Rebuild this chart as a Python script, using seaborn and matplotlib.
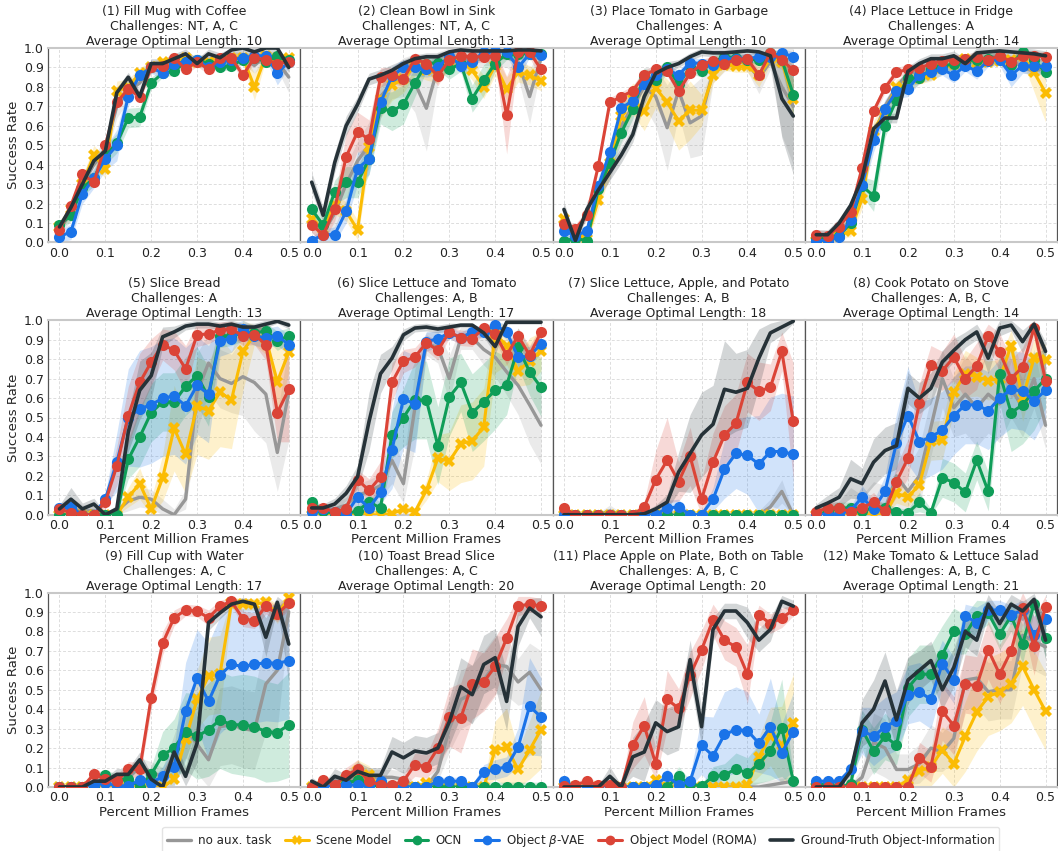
import matplotlib
matplotlib.use("Agg")
import matplotlib.pyplot as plt
import matplotlib.font_manager as fm
from matplotlib.lines import Line2D
import numpy as np
import seaborn as sns

# ---------------- data ----------------
X = [0.0, 0.025, 0.05, 0.075, 0.1, 0.125, 0.15, 0.175, 0.2, 0.225, 0.25,
     0.275, 0.3, 0.325, 0.35, 0.375, 0.4, 0.425, 0.45, 0.475, 0.5]

SERIES = ["grey", "scene", "ocn", "vae", "roma", "gt"]
LABELS = ["no aux. task", "Scene Model", "OCN", "Object $\\beta$-VAE",
          "Object Model (ROMA)", "Ground-Truth Object-Information"]

TITLES = [
    "(1) Fill Mug with Coffee\nChallenges: NT, A, C\nAverage Optimal Length: 10",
    "(2) Clean Bowl in Sink\nChallenges: NT, A, C\nAverage Optimal Length: 13",
    "(3) Place Tomato in Garbage\nChallenges: A\nAverage Optimal Length: 10",
    "(4) Place Lettuce in Fridge\nChallenges: A\nAverage Optimal Length: 14",
    "(5) Slice Bread\nChallenges: A\nAverage Optimal Length: 13",
    "(6) Slice Lettuce and Tomato\nChallenges: A, B\nAverage Optimal Length: 17",
    "(7) Slice Lettuce, Apple, and Potato\nChallenges: A, B\nAverage Optimal Length: 18",
    "(8) Cook Potato on Stove\nChallenges: A, B, C\nAverage Optimal Length: 14",
    "(9) Fill Cup with Water\nChallenges: A, C\nAverage Optimal Length: 17",
    "(10) Toast Bread Slice\nChallenges: A, C\nAverage Optimal Length: 20",
    "(11) Place Apple on Plate, Both on Table\nChallenges: A, B, C\nAverage Optimal Length: 20",
    "(12) Make Tomato & Lettuce Salad\nChallenges: A, B, C\nAverage Optimal Length: 21",
]

P1 = dict(
    grey=[0.07,0.15,0.30,0.40,0.48,0.70,0.78,0.82,0.90,0.90,0.93,0.93,0.94,0.93,0.94,0.95,0.95,0.91,0.96,0.93,0.85],
    scene=[0.08,0.17,0.30,0.45,0.38,0.78,0.80,0.87,0.90,0.93,0.93,0.95,0.93,0.93,0.93,0.95,0.95,0.80,0.96,0.95,0.95],
    ocn=[0.09,0.14,0.28,0.33,0.45,0.51,0.64,0.645,0.82,0.87,0.88,0.93,0.94,0.92,0.90,0.91,0.94,0.95,0.93,0.96,0.94],
    vae=[0.03,0.055,0.25,0.33,0.43,0.50,0.75,0.86,0.90,0.87,0.92,0.93,0.94,0.90,0.93,0.94,0.95,0.96,0.96,0.87,0.93],
    roma=[0.065,0.19,0.35,0.31,0.50,0.72,0.79,0.75,0.90,0.91,0.95,0.89,0.93,0.89,0.95,0.95,0.86,0.95,0.94,0.92,0.93],
    gt=[0.08,0.18,0.30,0.42,0.47,0.77,0.85,0.75,0.92,0.92,0.945,0.97,0.92,0.97,0.95,0.99,1.0,0.98,1.0,1.0,0.90],
)
P2 = dict(
    grey=[0.10,0.05,0.15,0.30,0.42,0.50,0.75,0.82,0.85,0.82,0.69,0.90,0.95,0.95,0.93,0.95,0.95,0.95,0.93,0.75,0.95],
    scene=[0.12,0.07,0.195,0.16,0.065,0.49,0.74,0.81,0.84,0.91,0.885,0.87,0.93,0.94,0.885,0.80,0.91,0.79,0.875,0.86,0.83],
    ocn=[0.17,0.09,0.26,0.31,0.31,0.43,0.69,0.675,0.71,0.82,0.92,0.925,0.89,0.92,0.74,0.835,0.92,0.97,0.97,0.97,0.97],
    vae=[0.01,0.04,0.04,0.16,0.38,0.43,0.72,0.855,0.90,0.90,0.89,0.90,0.96,0.91,0.93,0.98,0.985,0.98,0.90,0.97,0.965],
    roma=[0.09,0.04,0.17,0.44,0.57,0.53,0.85,0.86,0.84,0.945,0.92,0.855,0.94,0.96,0.955,0.955,0.96,0.655,0.98,0.98,0.89],
    gt=[0.31,0.14,0.41,0.60,0.71,0.84,0.86,0.885,0.92,0.945,0.955,0.955,0.98,0.99,0.985,0.985,0.985,0.985,0.99,0.99,0.985],
)
P3 = dict(
    grey=[0.10,0.03,0.05,0.28,0.40,0.60,0.70,0.80,0.75,0.59,0.78,0.615,0.65,0.88,0.92,0.93,0.92,0.845,0.93,0.80,0.70],
    scene=[0.12,0.035,0.02,0.22,0.41,0.65,0.74,0.675,0.795,0.72,0.625,0.68,0.68,0.86,0.915,0.905,0.905,0.86,0.945,0.93,0.74],
    ocn=[0.01,0.02,0.01,0.275,0.41,0.565,0.685,0.855,0.835,0.90,0.815,0.90,0.88,0.93,0.955,0.95,0.94,0.94,0.975,0.94,0.76],
    vae=[0.06,0.035,0.06,0.29,0.465,0.69,0.73,0.815,0.86,0.89,0.86,0.925,0.92,0.915,0.945,0.945,0.945,0.955,0.955,0.975,0.955],
    roma=[0.095,0.07,0.14,0.395,0.72,0.75,0.78,0.86,0.89,0.88,0.78,0.87,0.915,0.935,0.92,0.94,0.945,0.86,0.975,0.94,0.885],
    gt=[0.17,0.01,0.17,0.27,0.36,0.45,0.555,0.75,0.87,0.90,0.92,0.955,0.98,0.975,0.975,0.98,0.985,0.98,0.96,0.74,0.65],
)
P4 = dict(
    grey=[0.02,0.02,0.05,0.12,0.30,0.55,0.70,0.80,0.87,0.88,0.90,0.92,0.90,0.93,0.93,0.94,0.95,0.94,0.90,0.88,0.90],
    scene=[0.01,0.02,0.035,0.06,0.225,0.575,0.675,0.80,0.81,0.845,0.86,0.895,0.92,0.945,0.925,0.93,0.935,0.94,0.96,0.875,0.77],
    ocn=[0.02,0.02,0.035,0.10,0.29,0.24,0.60,0.735,0.845,0.845,0.89,0.905,0.92,0.93,0.94,0.945,0.955,0.915,0.98,0.94,0.875],
    vae=[0.01,0.01,0.03,0.115,0.295,0.525,0.685,0.78,0.79,0.86,0.875,0.89,0.86,0.91,0.88,0.935,0.94,0.86,0.91,0.905,0.905],
    roma=[0.04,0.035,0.08,0.155,0.385,0.675,0.795,0.875,0.89,0.895,0.92,0.935,0.94,0.945,0.955,0.94,0.96,0.93,0.96,0.96,0.955],
    gt=[0.04,0.04,0.10,0.19,0.33,0.585,0.64,0.64,0.88,0.92,0.945,0.945,0.96,0.92,0.975,0.98,0.985,0.98,0.975,0.97,0.96],
)
P5 = dict(
    grey=[0.03,0.03,0.02,0.02,0.0,0.02,0.07,0.09,0.08,0.03,0.0,0.08,0.63,0.78,0.70,0.675,0.71,0.68,0.62,0.32,0.63],
    scene=[0.0,0.0,0.0,0.0,0.0,0.0,0.09,0.16,0.03,0.19,0.445,0.31,0.56,0.535,0.63,0.59,0.84,0.925,0.905,0.685,0.835],
    ocn=[0.0,0.0,0.0,0.0,0.0,0.0,0.285,0.40,0.525,0.58,0.58,0.66,0.715,0.605,0.92,0.92,0.935,0.935,0.945,0.895,0.92],
    vae=[0.035,0.04,0.0,0.0,0.08,0.27,0.50,0.545,0.565,0.60,0.61,0.56,0.665,0.62,0.895,0.905,0.955,0.92,0.91,0.92,0.875],
    roma=[0.03,0.01,0.0,0.0,0.065,0.25,0.51,0.68,0.785,0.875,0.845,0.75,0.925,0.93,0.95,0.955,0.92,0.925,0.875,0.525,0.645],
    gt=[0.03,0.08,0.03,0.055,0.0,0.03,0.425,0.64,0.715,0.915,0.94,0.97,0.98,0.98,0.97,0.98,0.965,0.965,0.98,0.995,0.975],
)
P6 = dict(
    grey=[0.03,0.02,0.03,0.05,0.10,0.12,0.15,0.28,0.16,0.55,0.88,0.86,0.70,0.91,0.91,0.85,0.81,0.735,0.665,0.565,0.46],
    scene=[0.0,0.0,0.0,0.0,0.0,0.0,0.0,0.005,0.03,0.015,0.125,0.29,0.275,0.365,0.38,0.45,0.93,0.87,0.74,0.79,0.84],
    ocn=[0.065,0.02,0.005,0.005,0.02,0.065,0.035,0.41,0.50,0.59,0.59,0.355,0.605,0.68,0.525,0.58,0.64,0.665,0.86,0.735,0.655],
    vae=[0.015,0.03,0.015,0.005,0.09,0.035,0.115,0.335,0.595,0.57,0.89,0.905,0.935,0.91,0.94,0.94,0.975,0.94,0.81,0.815,0.88],
    roma=[0.035,0.035,0.015,0.03,0.18,0.125,0.195,0.68,0.79,0.81,0.885,0.845,0.94,0.91,0.905,0.96,0.93,0.82,0.92,0.82,0.94],
    gt=[0.035,0.035,0.055,0.11,0.195,0.48,0.725,0.805,0.925,0.96,0.965,0.955,0.965,0.975,0.975,0.935,0.865,0.99,0.99,0.99,0.99],
)
P7 = dict(
    grey=[0.0,0.0,0.0,0.0,0.02,0.0,0.0,0.0,0.0,0.0,0.0,0.0,0.0,0.0,0.0,0.0,0.0,0.0,0.04,0.12,0.0],
    scene=[0.0,0.0,0.0,0.0,0.0,0.0,0.0,0.0,0.0,0.0,0.0,0.0,0.0,0.0,0.0,0.0,0.0,0.0,0.0,0.0,0.0],
    ocn=[0.0,0.0,0.0,0.0,0.0,0.0,0.0,0.0,0.0,0.0,0.0,0.0,0.0,0.0,0.0,0.0,0.0,0.0,0.0,0.0,0.0],
    vae=[0.0,0.0,0.0,0.0,0.0,0.0,0.0,0.0,0.0,0.035,0.04,0.0,0.0,0.08,0.235,0.315,0.305,0.26,0.325,0.325,0.31],
    roma=[0.035,0.0,0.0,0.0,0.0,0.0,0.0,0.04,0.18,0.28,0.17,0.30,0.08,0.27,0.41,0.47,0.68,0.635,0.655,0.84,0.48],
    gt=[0.0,0.0,0.0,0.0,0.0,0.0,0.0,0.005,0.03,0.065,0.22,0.315,0.41,0.465,0.645,0.63,0.65,0.805,0.935,0.965,0.995],
)
P8 = dict(
    grey=[0.01,0.02,0.02,0.04,0.02,0.05,0.03,0.20,0.12,0.20,0.45,0.70,0.55,0.62,0.55,0.62,0.57,0.65,0.55,0.70,0.46],
    scene=[0.0,0.0,0.0,0.0,0.0,0.0,0.0,0.11,0.09,0.155,0.38,0.385,0.63,0.725,0.71,0.69,0.70,0.87,0.60,0.805,0.795],
    ocn=[0.0,0.015,0.035,0.035,0.02,0.035,0.035,0.015,0.01,0.065,0.01,0.19,0.165,0.115,0.28,0.12,0.725,0.525,0.565,0.635,0.70],
    vae=[0.005,0.0,0.005,0.02,0.09,0.03,0.12,0.37,0.51,0.375,0.40,0.435,0.51,0.565,0.565,0.535,0.60,0.645,0.635,0.585,0.64],
    roma=[0.015,0.035,0.035,0.015,0.035,0.065,0.02,0.17,0.29,0.575,0.77,0.74,0.81,0.70,0.765,0.92,0.835,0.70,0.76,0.96,0.69],
    gt=[0.035,0.06,0.09,0.185,0.16,0.27,0.33,0.355,0.65,0.60,0.65,0.785,0.845,0.90,0.94,0.805,0.96,0.975,0.89,0.98,0.84],
)
P9 = dict(
    grey=[0.0,0.0,0.0,0.02,0.03,0.05,0.05,0.10,0.08,0.05,0.17,0.30,0.22,0.14,0.31,0.32,0.30,0.29,0.53,0.60,0.90],
    scene=[0.0,0.0,0.0,0.0,0.0,0.0,0.0,0.0,0.0,0.0,0.04,0.245,0.45,0.57,0.58,0.945,0.94,0.94,0.95,0.89,0.97],
    ocn=[0.0,0.0,0.0,0.0,0.06,0.035,0.04,0.0,0.065,0.165,0.20,0.285,0.26,0.295,0.345,0.32,0.32,0.31,0.285,0.28,0.32],
    vae=[0.0,0.0,0.0,0.01,0.02,0.005,0.005,0.035,0.02,0.055,0.105,0.39,0.56,0.44,0.575,0.63,0.62,0.63,0.64,0.635,0.65],
    roma=[0.0,0.0,0.0,0.065,0.04,0.03,0.09,0.09,0.46,0.74,0.87,0.91,0.905,0.87,0.93,0.955,0.865,0.855,0.93,0.89,0.945],
    gt=[0.0,0.0,0.0,0.03,0.03,0.065,0.065,0.14,0.04,0.0,0.18,0.055,0.225,0.845,0.895,0.94,0.955,0.94,0.77,0.95,0.735],
)
P10 = dict(
    grey=[0.02,0.0,0.04,0.02,0.05,0.05,0.05,0.05,0.04,0.0,0.0,0.08,0.30,0.45,0.48,0.55,0.63,0.62,0.54,0.59,0.50],
    scene=[0.0,0.01,0.0,0.04,0.08,0.06,0.0,0.0,0.0,0.0,0.02,0.01,0.0,0.0,0.0,0.0,0.19,0.205,0.09,0.19,0.295],
    ocn=[0.0,0.0,0.0,0.02,0.035,0.01,0.0,0.0,0.0,0.0,0.0,0.0,0.0,0.0,0.0,0.0,0.0,0.0,0.0,0.0,0.0],
    vae=[0.0,0.0,0.01,0.01,0.01,0.01,0.03,0.0,0.0,0.0,0.0,0.03,0.03,0.03,0.0,0.075,0.09,0.105,0.205,0.415,0.36],
    roma=[0.0,0.035,0.01,0.06,0.09,0.03,0.01,0.01,0.03,0.115,0.105,0.20,0.36,0.355,0.53,0.54,0.62,0.765,0.93,0.94,0.93],
    gt=[0.03,0.0,0.055,0.035,0.08,0.06,0.06,0.18,0.15,0.185,0.175,0.20,0.335,0.515,0.475,0.63,0.665,0.44,0.825,0.92,0.875],
)
P11 = dict(
    grey=[0.0,0.0,0.0,0.0,0.0,0.0,0.0,0.0,0.0,0.0,0.0,0.0,0.0,0.0,0.0,0.0,0.0,0.0,0.01,0.02,0.03],
    scene=[0.0,0.0,0.0,0.0,0.0,0.0,0.0,0.0,0.035,0.0,0.0,0.0,0.0,0.0,0.0,0.0,0.01,0.155,0.26,0.215,0.33],
    ocn=[0.0,0.0,0.0,0.0,0.0,0.0,0.0,0.0,0.0,0.0,0.055,0.015,0.005,0.055,0.06,0.095,0.07,0.12,0.185,0.305,0.03],
    vae=[0.03,0.0,0.0,0.0,0.0,0.0,0.0,0.0,0.01,0.055,0.01,0.03,0.215,0.16,0.27,0.295,0.29,0.225,0.31,0.175,0.285],
    roma=[0.005,0.01,0.03,0.01,0.01,0.0,0.215,0.315,0.12,0.45,0.405,0.575,0.705,0.86,0.755,0.72,0.58,0.885,0.84,0.87,0.91],
    gt=[0.0,0.0,0.0,0.0,0.055,0.0,0.155,0.18,0.33,0.285,0.31,0.655,0.31,0.81,0.905,0.905,0.845,0.755,0.81,0.955,0.93],
)
P12 = dict(
    grey=[0.0,0.0,0.0,0.0,0.05,0.23,0.20,0.09,0.09,0.12,0.20,0.18,0.25,0.55,0.56,0.49,0.50,0.50,0.78,0.75,0.72],
    scene=[0.0,0.0,0.0,0.0,0.0,0.0,0.0,0.0,0.035,0.08,0.105,0.19,0.12,0.26,0.385,0.465,0.49,0.53,0.62,0.50,0.39],
    ocn=[0.015,0.015,0.0,0.015,0.295,0.185,0.26,0.215,0.51,0.58,0.58,0.68,0.80,0.785,0.88,0.895,0.785,0.88,0.735,0.94,0.765],
    vae=[0.03,0.03,0.03,0.09,0.29,0.26,0.31,0.34,0.475,0.49,0.45,0.635,0.55,0.88,0.845,0.91,0.91,0.885,0.91,0.78,0.865],
    roma=[0.0,0.0,0.0,0.0,0.0,0.0,0.0,0.0,0.0,0.15,0.105,0.39,0.315,0.53,0.52,0.705,0.58,0.70,0.92,0.725,0.925],
    gt=[0.0,0.0,0.0,0.08,0.33,0.40,0.545,0.345,0.55,0.60,0.65,0.50,0.615,0.80,0.755,0.94,0.84,0.94,0.905,0.965,0.755],
)

# half-widths of the shaded spread (series not listed use a thin default spread)
B1 = dict(
    grey=[0.03,0.04,0.05,0.05,0.05,0.06,0.05,0.05,0.03,0.03,0.03,0.03,0.03,0.03,0.03,0.03,0.03,0.04,0.03,0.04,0.08],
    scene=[0.03,0.03,0.04,0.05,0.05,0.05,0.04,0.03,0.03,0.02,0.02,0.02,0.02,0.02,0.02,0.02,0.03,0.07,0.02,0.02,0.02],
    vae=[0.03,0.04,0.05,0.05,0.06,0.08,0.05,0.03,0.03,0.03,0.02,0.02,0.02,0.03,0.02,0.02,0.02,0.02,0.02,0.06,0.03],
    ocn=[0.02,0.03,0.04,0.04,0.05,0.05,0.05,0.05,0.03,0.02,0.02,0.02,0.02,0.02,0.02,0.02,0.02,0.02,0.02,0.02,0.02],
)
B2 = dict(
    grey=[0.05,0.05,0.08,0.10,0.10,0.12,0.10,0.08,0.10,0.15,0.22,0.08,0.05,0.04,0.05,0.04,0.04,0.05,0.08,0.14,0.05],
    roma=[0.04,0.04,0.06,0.12,0.10,0.10,0.05,0.04,0.04,0.03,0.03,0.05,0.03,0.03,0.03,0.03,0.03,0.20,0.03,0.03,0.05],
    ocn=[0.04,0.04,0.06,0.08,0.08,0.08,0.08,0.10,0.10,0.07,0.04,0.04,0.05,0.04,0.07,0.08,0.04,0.03,0.03,0.03,0.03],
    scene=[0.04,0.04,0.05,0.05,0.05,0.08,0.10,0.08,0.07,0.05,0.05,0.05,0.04,0.04,0.05,0.06,0.05,0.06,0.05,0.05,0.05],
    vae=[0.02,0.03,0.04,0.06,0.08,0.08,0.08,0.05,0.04,0.04,0.04,0.04,0.03,0.04,0.04,0.02,0.02,0.02,0.05,0.02,0.02],
    gt=[0.05,0.04,0.05,0.05,0.04,0.03,0.03,0.03,0.02,0.02,0.02,0.02,0.01,0.01,0.01,0.01,0.01,0.01,0.01,0.01,0.01],
)
B3 = dict(
    grey=[0.05,0.03,0.04,0.06,0.08,0.10,0.10,0.10,0.15,0.22,0.12,0.18,0.20,0.06,0.04,0.03,0.04,0.08,0.04,0.25,0.30],
    scene=[0.04,0.02,0.02,0.05,0.07,0.08,0.08,0.10,0.10,0.12,0.15,0.15,0.08,0.04,0.03,0.03,0.03,0.06,0.03,0.04,0.10],
    gt=[0.04,0.01,0.04,0.04,0.04,0.04,0.04,0.04,0.03,0.03,0.02,0.02,0.02,0.02,0.02,0.02,0.02,0.02,0.04,0.20,0.30],
    ocn=[0.02,0.02,0.02,0.04,0.05,0.05,0.05,0.04,0.04,0.03,0.04,0.03,0.03,0.03,0.02,0.02,0.02,0.02,0.02,0.04,0.10],
)
B4 = dict(
    scene=[0.01,0.02,0.02,0.03,0.05,0.05,0.05,0.04,0.04,0.03,0.03,0.03,0.03,0.02,0.02,0.02,0.02,0.02,0.03,0.10,0.15],
    vae=[0.01,0.01,0.02,0.03,0.05,0.06,0.05,0.04,0.04,0.04,0.04,0.03,0.04,0.03,0.04,0.03,0.03,0.06,0.04,0.04,0.04],
    ocn=[0.01,0.01,0.02,0.03,0.05,0.08,0.06,0.05,0.04,0.03,0.03,0.03,0.03,0.03,0.03,0.03,0.03,0.03,0.02,0.03,0.04],
)
B5 = dict(
    grey=[0.03,0.06,0.03,0.04,0.02,0.02,0.05,0.05,0.05,0.05,0.03,0.05,0.20,0.15,0.15,0.15,0.20,0.25,0.25,0.20,0.25],
    scene=[0.01,0.01,0.01,0.01,0.01,0.01,0.05,0.08,0.05,0.12,0.22,0.20,0.25,0.25,0.28,0.25,0.20,0.05,0.08,0.20,0.10],
    ocn=[0.01,0.01,0.01,0.01,0.01,0.01,0.10,0.15,0.15,0.15,0.15,0.15,0.15,0.15,0.06,0.05,0.04,0.04,0.04,0.05,0.04],
    vae=[0.02,0.02,0.01,0.01,0.03,0.15,0.25,0.30,0.30,0.30,0.30,0.30,0.25,0.25,0.08,0.07,0.05,0.05,0.05,0.05,0.05],
    roma=[0.02,0.02,0.01,0.01,0.04,0.10,0.15,0.15,0.12,0.08,0.10,0.12,0.06,0.05,0.04,0.04,0.05,0.05,0.08,0.15,0.27],
    gt=[0.02,0.06,0.03,0.03,0.01,0.02,0.10,0.15,0.12,0.05,0.03,0.02,0.02,0.02,0.02,0.02,0.02,0.02,0.02,0.01,0.02],
)
B6 = dict(
    grey=[0.03,0.02,0.03,0.04,0.06,0.06,0.06,0.12,0.10,0.20,0.06,0.08,0.12,0.06,0.06,0.08,0.10,0.12,0.15,0.20,0.20],
    scene=[0.01,0.01,0.01,0.01,0.01,0.01,0.01,0.01,0.02,0.02,0.05,0.12,0.15,0.20,0.20,0.20,0.20,0.10,0.08,0.12,0.10],
    ocn=[0.03,0.02,0.01,0.01,0.02,0.04,0.03,0.12,0.15,0.20,0.20,0.20,0.20,0.15,0.20,0.20,0.20,0.15,0.10,0.12,0.15],
    vae=[0.02,0.02,0.02,0.01,0.04,0.02,0.06,0.20,0.25,0.25,0.05,0.04,0.03,0.03,0.03,0.03,0.02,0.04,0.05,0.05,0.05],
    roma=[0.02,0.02,0.02,0.02,0.05,0.06,0.08,0.10,0.06,0.05,0.04,0.05,0.03,0.04,0.04,0.03,0.03,0.05,0.04,0.05,0.03],
    gt=[0.02,0.02,0.03,0.04,0.06,0.15,0.10,0.06,0.03,0.02,0.02,0.02,0.02,0.01,0.01,0.02,0.04,0.01,0.01,0.01,0.01],
)
B7 = dict(
    grey=[0.01,0.01,0.01,0.01,0.03,0.01,0.01,0.01,0.01,0.01,0.01,0.01,0.01,0.01,0.01,0.01,0.01,0.02,0.04,0.06,0.01],
    scene=[0.01,0.01,0.01,0.01,0.01,0.01,0.01,0.01,0.01,0.01,0.01,0.01,0.01,0.01,0.01,0.01,0.01,0.01,0.01,0.01,0.01],
    ocn=[0.01,0.01,0.01,0.01,0.01,0.01,0.01,0.01,0.01,0.01,0.01,0.01,0.01,0.01,0.01,0.01,0.01,0.01,0.01,0.01,0.01],
    vae=[0.01,0.01,0.01,0.01,0.01,0.01,0.01,0.01,0.01,0.04,0.04,0.01,0.01,0.06,0.15,0.18,0.20,0.25,0.28,0.30,0.30],
    roma=[0.02,0.01,0.01,0.01,0.01,0.01,0.01,0.03,0.15,0.22,0.10,0.15,0.10,0.15,0.15,0.15,0.15,0.15,0.12,0.10,0.30],
    gt=[0.01,0.01,0.01,0.01,0.01,0.01,0.01,0.01,0.02,0.04,0.10,0.20,0.22,0.20,0.25,0.20,0.20,0.15,0.05,0.04,0.01],
)
B8 = dict(
    grey=[0.02,0.04,0.05,0.10,0.08,0.12,0.12,0.15,0.12,0.15,0.15,0.15,0.15,0.20,0.20,0.20,0.20,0.15,0.15,0.15,0.12],
    scene=[0.01,0.01,0.01,0.01,0.01,0.01,0.01,0.05,0.05,0.05,0.10,0.10,0.10,0.12,0.10,0.10,0.10,0.08,0.12,0.10,0.08],
    ocn=[0.01,0.02,0.03,0.03,0.02,0.03,0.03,0.02,0.02,0.05,0.02,0.10,0.10,0.10,0.10,0.10,0.15,0.20,0.20,0.20,0.15],
    vae=[0.01,0.01,0.01,0.02,0.06,0.04,0.08,0.15,0.25,0.20,0.20,0.20,0.20,0.20,0.20,0.20,0.20,0.20,0.20,0.20,0.15],
    roma=[0.01,0.03,0.03,0.02,0.03,0.05,0.02,0.08,0.10,0.10,0.10,0.10,0.12,0.10,0.12,0.06,0.10,0.10,0.10,0.05,0.10],
    gt=[0.02,0.04,0.05,0.10,0.08,0.12,0.12,0.12,0.08,0.08,0.08,0.06,0.06,0.04,0.04,0.08,0.04,0.03,0.06,0.03,0.05],
)
B9 = dict(
    grey=[0.01,0.01,0.01,0.02,0.02,0.03,0.03,0.05,0.05,0.05,0.10,0.15,0.15,0.15,0.20,0.20,0.20,0.20,0.25,0.30,0.05],
    scene=[0.01,0.01,0.01,0.01,0.01,0.01,0.01,0.01,0.01,0.01,0.03,0.10,0.15,0.20,0.20,0.03,0.03,0.03,0.03,0.05,0.02],
    ocn=[0.01,0.01,0.01,0.01,0.03,0.03,0.03,0.01,0.04,0.12,0.15,0.20,0.22,0.24,0.25,0.25,0.26,0.26,0.26,0.25,0.27],
    vae=[0.01,0.01,0.01,0.01,0.02,0.01,0.01,0.02,0.02,0.05,0.10,0.25,0.25,0.30,0.30,0.30,0.30,0.30,0.30,0.30,0.30],
    roma=[0.01,0.01,0.01,0.03,0.03,0.03,0.04,0.04,0.06,0.06,0.04,0.03,0.03,0.04,0.03,0.02,0.04,0.04,0.04,0.04,0.03],
    gt=[0.01,0.01,0.01,0.02,0.02,0.03,0.03,0.04,0.03,0.02,0.05,0.05,0.10,0.04,0.03,0.02,0.02,0.02,0.10,0.03,0.20],
)
B10 = dict(
    grey=[0.02,0.01,0.03,0.03,0.04,0.04,0.04,0.04,0.04,0.02,0.02,0.05,0.12,0.15,0.15,0.15,0.15,0.15,0.12,0.15,0.20],
    scene=[0.01,0.02,0.01,0.04,0.06,0.05,0.01,0.01,0.01,0.01,0.02,0.02,0.01,0.01,0.01,0.01,0.15,0.20,0.10,0.15,0.20],
    vae=[0.01,0.01,0.01,0.01,0.01,0.01,0.02,0.01,0.01,0.01,0.01,0.02,0.02,0.02,0.01,0.04,0.05,0.05,0.10,0.25,0.20],
    roma=[0.01,0.03,0.01,0.04,0.05,0.03,0.01,0.01,0.03,0.06,0.06,0.10,0.15,0.18,0.18,0.15,0.15,0.10,0.05,0.04,0.04],
    gt=[0.02,0.01,0.04,0.03,0.05,0.04,0.04,0.08,0.08,0.08,0.08,0.08,0.12,0.15,0.15,0.15,0.15,0.15,0.10,0.05,0.10],
)
B11 = dict(
    scene=[0.01,0.01,0.01,0.01,0.01,0.01,0.01,0.01,0.02,0.01,0.01,0.01,0.01,0.01,0.01,0.01,0.02,0.10,0.15,0.20,0.25],
    ocn=[0.01,0.01,0.01,0.01,0.01,0.01,0.01,0.01,0.01,0.01,0.05,0.02,0.01,0.05,0.06,0.08,0.08,0.10,0.15,0.25,0.03],
    vae=[0.03,0.01,0.01,0.01,0.01,0.01,0.01,0.01,0.01,0.04,0.01,0.03,0.15,0.20,0.22,0.22,0.20,0.15,0.25,0.15,0.20],
    roma=[0.01,0.01,0.03,0.01,0.01,0.01,0.12,0.15,0.08,0.15,0.10,0.12,0.10,0.08,0.10,0.10,0.15,0.05,0.05,0.05,0.03],
    gt=[0.01,0.01,0.01,0.01,0.05,0.01,0.10,0.15,0.12,0.12,0.12,0.10,0.10,0.06,0.04,0.04,0.08,0.06,0.06,0.03,0.03],
)
B12 = dict(
    grey=[0.01,0.01,0.01,0.01,0.05,0.15,0.15,0.08,0.08,0.10,0.12,0.10,0.12,0.15,0.15,0.15,0.15,0.15,0.15,0.15,0.15],
    scene=[0.01,0.01,0.01,0.01,0.01,0.01,0.01,0.01,0.03,0.08,0.10,0.12,0.15,0.18,0.20,0.20,0.20,0.20,0.20,0.20,0.20],
    ocn=[0.01,0.01,0.01,0.01,0.10,0.12,0.12,0.10,0.15,0.15,0.15,0.15,0.12,0.10,0.08,0.06,0.08,0.08,0.10,0.04,0.10],
    vae=[0.01,0.01,0.01,0.03,0.12,0.15,0.15,0.15,0.15,0.15,0.15,0.12,0.12,0.06,0.08,0.05,0.05,0.05,0.05,0.10,0.06],
    roma=[0.01,0.01,0.01,0.01,0.01,0.01,0.01,0.01,0.01,0.08,0.08,0.15,0.15,0.15,0.15,0.15,0.15,0.15,0.08,0.15,0.06],
    gt=[0.01,0.01,0.01,0.03,0.12,0.15,0.15,0.15,0.12,0.10,0.10,0.10,0.10,0.08,0.08,0.05,0.06,0.05,0.05,0.03,0.10],
)

PANELS = [P1, P2, P3, P4, P5, P6, P7, P8, P9, P10, P11, P12]
BANDS = [B1, B2, B3, B4, B5, B6, B7, B8, B9, B10, B11, B12]
DEFAULT_SPREAD = 0.025

# ---------------- style ----------------
COLORS = dict(grey="#979797", scene="#fbbc04", ocn="#0f9d58", vae="#1a73e8",
              roma="#db4437", gt="#263238")
MARKERS = dict(grey=None, scene="X", ocn="o", vae="o", roma="o", gt=None)
LW = dict(grey=2.4, scene=2.2, ocn=2.2, vae=2.2, roma=2.2, gt=2.6)

sns.set_theme(style="whitegrid")
plt.rcParams["font.family"] = ["DejaVu Sans"]

fig, axes = plt.subplots(3, 4, figsize=(10.58, 8.51), dpi=100, sharey=True)
fig.subplots_adjust(left=48 / 1058, right=1057 / 1058, top=1 - 48 / 851,
                    bottom=1 - 787 / 851, wspace=0.0, hspace=0.40)

for k, ax in enumerate(axes.flat):
    data = PANELS[k]
    bands = BANDS[k]
    for s in SERIES:
        y = np.array(data[s])
        b = np.array(bands.get(s, [DEFAULT_SPREAD] * len(X)))
        ax.fill_between(X, np.clip(y - b, 0, 1), np.clip(y + b, 0, 1),
                        color=COLORS[s], alpha=0.2, lw=0, zorder=1)
    for zi, s in enumerate(SERIES):
        kw = dict(marker=MARKERS[s], markersize=8 if s != "scene" else 9,
                  markeredgewidth=0) if MARKERS[s] else {}
        sns.lineplot(x=X, y=data[s], ax=ax, color=COLORS[s], lw=LW[s],
                     legend=False, zorder=3 + zi, **kw)
    ax.set_xlim(-0.025, 0.525)
    ax.set_ylim(0, 1.0)
    ax.set_xticks([0.0, 0.1, 0.2, 0.3, 0.4, 0.5])
    ax.set_yticks(np.arange(0, 1.01, 0.1))
    ax.set_xticklabels(["0.0", "0.1", "0.2", "0.3", "0.4", "0.5"])
    ax.set_yticklabels([f"{v:.1f}" for v in np.arange(0, 1.01, 0.1)])
    ax.tick_params(axis="both", labelsize=9, length=0, pad=3, colors="#222222")
    ax.grid(True, color="#dddddd", lw=0.7, ls=(0, (3, 2)))
    ax.set_facecolor("white")
    for side in ["left", "right"]:
        ax.spines[side].set_color("#555555")
        ax.spines[side].set_linewidth(0.9)
    for side in ["top", "bottom"]:
        ax.spines[side].set_color("#c8c8c8")
        ax.spines[side].set_linewidth(1.5)
    ax.set_title(TITLES[k], fontsize=9, pad=2, linespacing=1.2, color="#222222")
    r, c = divmod(k, 4)
    if c == 0:
        ax.set_ylabel("Success Rate", fontsize=9.5, labelpad=3)
    else:
        ax.set_ylabel("")
    if r > 0:
        ax.set_xlabel("Percent Million Frames", fontsize=9.5, labelpad=1)
    else:
        ax.set_xlabel("")

# legend
names = {f.name for f in fm.fontManager.ttflist}
leg_family = "Liberation Sans Narrow" if "Liberation Sans Narrow" in names else "DejaVu Sans"
leg_size = 9.8 if leg_family == "Liberation Sans Narrow" else 8.6
handles = []
for s in SERIES:
    handles.append(Line2D([0], [0], color=COLORS[s], lw=LW[s],
                          marker=MARKERS[s] if MARKERS[s] else None,
                          markersize=7, markeredgewidth=0))
leg = fig.legend(handles, LABELS, loc="lower center", bbox_to_anchor=(0.549, -0.010),
                 ncol=6, frameon=True, columnspacing=1.1, handlelength=2.0,
                 handletextpad=0.6, prop=dict(family=leg_family, size=leg_size))
leg.get_frame().set_edgecolor("#dddddd")

fig.savefig("out.png", dpi=100)
